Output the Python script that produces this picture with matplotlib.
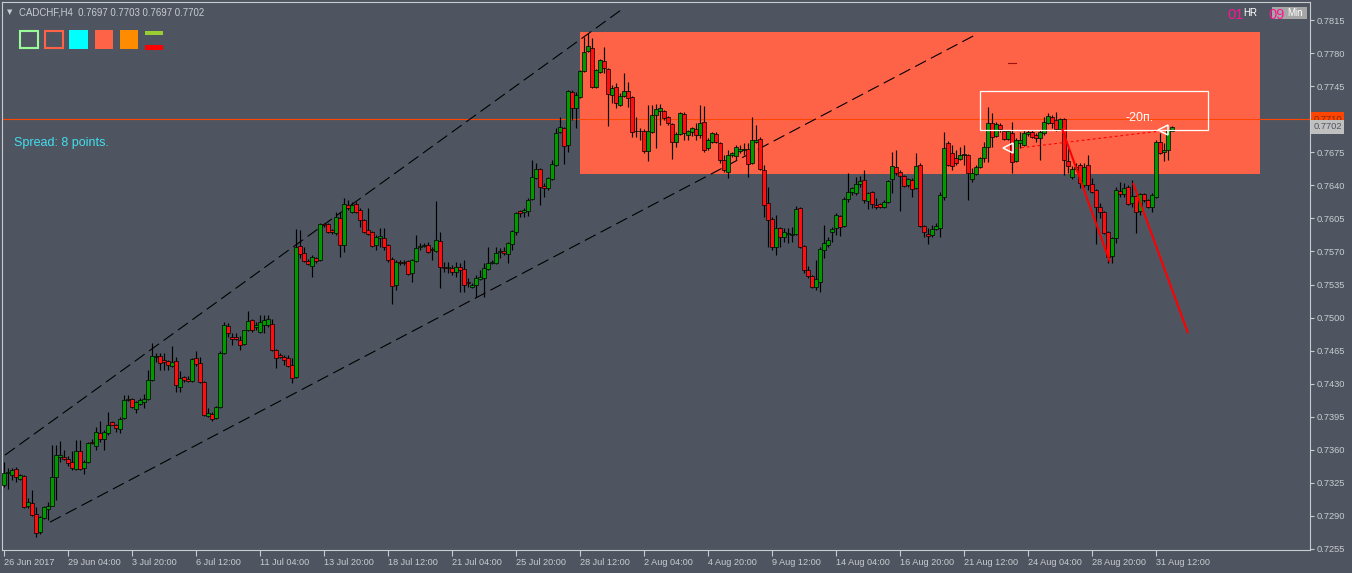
import matplotlib
matplotlib.use('Agg')
import matplotlib.pyplot as plt
from matplotlib.patches import Rectangle
import matplotlib.transforms as mtrans

W, H = 1352, 573
BG = '#4f5560'
FG = '#c8cbd0'
BULL = '#009a00'
BEAR = '#ff1010'
plt.rcParams['font.family'] = ['Liberation Sans', 'DejaVu Sans']

# ---------------- data (CADCHF H4, one bar every 4 hours) ----------------
opens = [
 .7323,.7335,.7333,.7340,.7329,.7332,.7300,.7304,.7292,.7273,.7288,.7297,.7301,.7331,.7352,.7352,.7350,.7347,.7340,.7359,
 .7341,.7347,.7368,.7364,.7378,.7371,.7378,.7389,.7386,.7382,.7394,.7413,.7414,.7403,.7409,.7411,.7414,.7434,.7458,.7459,
 .7455,.7454,.7449,.7454,.7426,.7437,.7435,.7433,.7457,.7452,.7432,.7396,.7398,.7394,.7405,.7462,.7491,.7479,.7479,.7476,
 .7472,.7487,.7497,.7490,.7485,.7492,.7492,.7493,.7466,.7460,.7458,.7457,.7450,.7437,.7576,.7568,.7560,.7555,.7563,.7561,
 .7599,.7599,.7593,.7590,.7605,.7577,.7619,.7612,.7620,.7614,.7603,.7593,.7591,.7577,.7584,.7584,.7577,.7562,.7534,.7559,
 .7558,.7560,.7547,.7560,.7575,.7576,.7577,.7573,.7570,.7581,.7553,.7552,.7552,.7548,.7553,.7551,.7538,.7532,.7534,.7541,
 .7542,.7551,.7558,.7558,.7569,.7570,.7567,.7578,.7591,.7613,.7612,.7613,.7625,.7648,.7657,.7639,.7637,.7647,.7661,.7696,
 .7701,.7683,.7739,.7722,.7734,.7761,.7782,.7785,.7744,.7760,.7772,.7763,.7736,.7744,.7725,.7735,.7740,.7734,.7698,.7697,
 .7698,.7676,.7696,.7714,.7719,.7719,.7712,.7705,.7686,.7694,.7716,.7693,.7696,.7700,.7693,.7707,.7680,.7686,.7694,.7685,
 .7667,.7654,.7672,.7671,.7676,.7677,.7678,.7664,.7686,.7689,.7656,.7621,.7604,.7575,.7595,.7585,.7588,.7587,.7588,.7616,
 .7576,.7550,.7544,.7532,.7538,.7571,.7577,.7591,.7595,.7608,.7597,.7625,.7633,.7632,.7641,.7646,.7623,.7633,.7619,.7620,
 .7617,.7622,.7647,.7659,.7654,.7650,.7640,.7646,.7637,.7661,.7597,.7588,.7587,.7594,.7595,.7628,.7685,.7674,.7669,.7668,
 .7672,.7672,.7647,.7652,.7659,.7669,.7681,.7706,.7692,.7704,.7697,.7689,.7695,.7666,.7685,.7683,.7694,.7696,.7693,.7690,
 .7695,.7706,.7712,.7709,.7700,.7710,.7666,.7649,.7657,.7661,.7640,.7661,.7641,.7635,.7617,.7612,.7591,.7565,.7584,.7634,
 .7631,.7638,.7621,.7629,.7613,.7631,.7624,.7617,.7628,.7686,.7675,.7677,.7697]
highs = [
 .7347,.7341,.7341,.7342,.7334,.7333,.7309,.7317,.7299,.7290,.7300,.7305,.7365,.7365,.7369,.7360,.7353,.7359,.7370,.7370,
 .7349,.7368,.7371,.7384,.7391,.7381,.7400,.7391,.7387,.7395,.7418,.7418,.7415,.7412,.7415,.7419,.7444,.7473,.7462,.7462,
 .7462,.7455,.7470,.7458,.7443,.7438,.7438,.7457,.7465,.7458,.7433,.7404,.7400,.7406,.7465,.7495,.7494,.7484,.7484,.7480,
 .7487,.7507,.7498,.7495,.7503,.7503,.7503,.7499,.7467,.7462,.7460,.7460,.7457,.7594,.7593,.7575,.7562,.7566,.7564,.7600,
 .7600,.7600,.7594,.7612,.7612,.7627,.7624,.7622,.7622,.7616,.7604,.7616,.7592,.7587,.7595,.7595,.7578,.7564,.7561,.7561,
 .7561,.7561,.7562,.7587,.7579,.7579,.7580,.7575,.7623,.7591,.7559,.7559,.7556,.7559,.7558,.7561,.7542,.7537,.7545,.7550,
 .7558,.7575,.7561,.7575,.7574,.7575,.7580,.7593,.7612,.7614,.7616,.7627,.7667,.7664,.7658,.7642,.7649,.7667,.7701,.7712,
 .7702,.7741,.7741,.7739,.7762,.7797,.7801,.7796,.7763,.7774,.7786,.7764,.7746,.7748,.7738,.7759,.7749,.7735,.7712,.7701,
 .7700,.7725,.7725,.7726,.7726,.7720,.7713,.7706,.7696,.7718,.7718,.7699,.7702,.7706,.7725,.7724,.7690,.7696,.7696,.7686,
 .7672,.7677,.7675,.7683,.7683,.7685,.7685,.7712,.7704,.7691,.7661,.7638,.7606,.7609,.7596,.7595,.7595,.7596,.7618,.7617,
 .7577,.7555,.7545,.7561,.7575,.7598,.7585,.7596,.7611,.7609,.7628,.7653,.7638,.7649,.7650,.7656,.7633,.7634,.7627,.7621,
 .7624,.7646,.7675,.7677,.7656,.7651,.7648,.7648,.7674,.7664,.7598,.7595,.7598,.7600,.7633,.7696,.7687,.7683,.7677,.7681,
 .7683,.7673,.7658,.7661,.7670,.7686,.7723,.7717,.7707,.7706,.7699,.7699,.7707,.7690,.7696,.7699,.7699,.7699,.7695,.7699,
 .7712,.7717,.7714,.7718,.7711,.7711,.7680,.7660,.7664,.7664,.7664,.7672,.7648,.7636,.7621,.7613,.7592,.7585,.7638,.7643,
 .7642,.7640,.7646,.7630,.7632,.7632,.7625,.7632,.7688,.7695,.7685,.7700,.7703]
lows = [
 .7321,.7318,.7328,.7326,.7328,.7298,.7298,.7290,.7268,.7271,.7287,.7286,.7300,.7307,.7347,.7349,.7343,.7339,.7339,.7339,
 .7334,.7346,.7366,.7360,.7368,.7360,.7376,.7386,.7379,.7378,.7393,.7412,.7404,.7399,.7407,.7404,.7413,.7433,.7453,.7445,
 .7444,.7445,.7448,.7421,.7421,.7432,.7432,.7432,.7449,.7431,.7396,.7395,.7390,.7393,.7404,.7461,.7479,.7471,.7476,.7466,
 .7471,.7486,.7485,.7487,.7484,.7484,.7490,.7465,.7447,.7457,.7450,.7448,.7431,.7436,.7563,.7559,.7556,.7543,.7558,.7560,
 .7596,.7590,.7588,.7587,.7564,.7569,.7614,.7611,.7611,.7596,.7590,.7587,.7575,.7571,.7575,.7571,.7559,.7514,.7529,.7556,
 .7556,.7545,.7538,.7559,.7571,.7575,.7568,.7561,.7569,.7531,.7548,.7547,.7545,.7543,.7527,.7527,.7532,.7531,.7522,.7540,
 .7522,.7550,.7557,.7557,.7563,.7566,.7558,.7571,.7587,.7606,.7606,.7607,.7624,.7647,.7619,.7628,.7635,.7646,.7660,.7695,
 .7663,.7675,.7709,.7701,.7732,.7760,.7781,.7743,.7743,.7759,.7759,.7703,.7727,.7722,.7724,.7734,.7723,.7691,.7691,.7688,
 .7674,.7666,.7695,.7680,.7704,.7709,.7704,.7668,.7681,.7693,.7688,.7688,.7692,.7688,.7690,.7675,.7677,.7685,.7685,.7664,
 .7654,.7648,.7670,.7667,.7674,.7672,.7649,.7663,.7685,.7656,.7606,.7575,.7571,.7566,.7575,.7580,.7579,.7580,.7587,.7574,
 .7547,.7542,.7531,.7529,.7527,.7563,.7575,.7580,.7587,.7586,.7596,.7622,.7630,.7630,.7638,.7621,.7615,.7616,.7615,.7616,
 .7616,.7621,.7632,.7651,.7613,.7638,.7638,.7628,.7636,.7596,.7585,.7578,.7585,.7593,.7585,.7624,.7660,.7656,.7661,.7667,
 .7661,.7624,.7643,.7651,.7658,.7665,.7665,.7681,.7691,.7696,.7688,.7688,.7653,.7665,.7680,.7682,.7692,.7690,.7686,.7667,
 .7693,.7705,.7701,.7697,.7699,.7651,.7653,.7647,.7656,.7637,.7638,.7635,.7632,.7578,.7605,.7588,.7558,.7558,.7579,.7628,
 .7628,.7619,.7617,.7590,.7609,.7622,.7616,.7612,.7627,.7673,.7666,.7667,.7697]
closes = [
 .7335,.7336,.7339,.7331,.7333,.7299,.7305,.7291,.7272,.7289,.7299,.7301,.7331,.7354,.7355,.7350,.7346,.7341,.7359,.7340,
 .7347,.7367,.7367,.7379,.7371,.7379,.7386,.7386,.7383,.7393,.7413,.7414,.7405,.7411,.7413,.7414,.7434,.7459,.7459,.7452,
 .7453,.7450,.7453,.7429,.7436,.7434,.7433,.7456,.7451,.7432,.7397,.7399,.7393,.7405,.7463,.7492,.7484,.7477,.7477,.7471,
 .7487,.7496,.7487,.7492,.7495,.7497,.7498,.7466,.7457,.7458,.7455,.7449,.7436,.7575,.7567,.7560,.7557,.7564,.7560,.7599,
 .7598,.7591,.7591,.7606,.7577,.7620,.7616,.7619,.7612,.7603,.7591,.7588,.7576,.7585,.7586,.7575,.7561,.7533,.7559,.7558,
 .7559,.7546,.7561,.7574,.7576,.7577,.7569,.7571,.7582,.7553,.7552,.7553,.7548,.7553,.7550,.7535,.7537,.7534,.7542,.7543,
 .7552,.7558,.7559,.7568,.7570,.7568,.7579,.7592,.7611,.7611,.7614,.7624,.7649,.7657,.7638,.7637,.7648,.7663,.7695,.7702,
 .7682,.7740,.7722,.7736,.7761,.7781,.7788,.7744,.7762,.7773,.7764,.7737,.7743,.7727,.7735,.7740,.7732,.7696,.7697,.7698,
 .7676,.7698,.7714,.7721,.7722,.7711,.7706,.7686,.7694,.7717,.7695,.7697,.7701,.7693,.7706,.7677,.7688,.7695,.7686,.7667,
 .7656,.7672,.7674,.7681,.7678,.7678,.7663,.7688,.7688,.7657,.7619,.7603,.7575,.7595,.7585,.7591,.7589,.7588,.7615,.7575,
 .7550,.7544,.7532,.7541,.7573,.7579,.7582,.7594,.7609,.7596,.7626,.7633,.7637,.7641,.7645,.7624,.7632,.7620,.7617,.7617,
 .7622,.7645,.7660,.7653,.7650,.7639,.7647,.7636,.7660,.7597,.7591,.7586,.7594,.7597,.7630,.7680,.7661,.7660,.7664,.7672,
 .7673,.7653,.7653,.7659,.7669,.7681,.7706,.7691,.7705,.7700,.7689,.7697,.7665,.7688,.7688,.7695,.7696,.7691,.7690,.7696,
 .7707,.7713,.7706,.7700,.7710,.7667,.7660,.7657,.7659,.7642,.7659,.7640,.7633,.7617,.7612,.7590,.7564,.7584,.7635,.7631,
 .7637,.7620,.7629,.7612,.7631,.7624,.7617,.7630,.7686,.7674,.7677,.7699,.7702]

time_labels = ['26 Jun 2017', '29 Jun 04:00', '3 Jul 20:00', '6 Jul 12:00', '11 Jul 04:00',
               '13 Jul 20:00', '18 Jul 12:00', '21 Jul 04:00', '25 Jul 20:00', '28 Jul 12:00',
               '2 Aug 04:00', '4 Aug 20:00', '9 Aug 12:00', '14 Aug 04:00', '16 Aug 20:00',
               '21 Aug 12:00', '24 Aug 04:00', '28 Aug 20:00', '31 Aug 12:00']
bars_per_label = 16
price_ticks = [0.7255, 0.7290, 0.7325, 0.7360, 0.7395, 0.7430, 0.7465, 0.7500, 0.7535,
               0.7570, 0.7605, 0.7640, 0.7675, 0.7710, 0.7745, 0.7780, 0.7815]

# chart objects (bar index, price)
zone_bars = [144, 314];        zone_prices = [0.76519, 0.78023]
box_bars = [244, 301];         box_prices = [0.76985, 0.77398]
upper_ch_bars = [0.25, 154.25]; upper_ch_prices = [0.73544, 0.78256]
lower_ch_bars = [11.5, 242.75]; lower_ch_prices = [0.72834, 0.77991]
red1_bars = [264.5, 276.5];    red1_prices = [0.77000, 0.75587]
red2_bars = [282.25, 296.0];   red2_prices = [0.76424, 0.74836]
dot_bars = [251.5, 289.0];     dot_prices = [0.76784, 0.76975]
mark_bars = [251.0, 289.75];   mark_prices = [0.76795, 0.76990]
level_price = 0.7710
bid_price = 0.7702
header = 'CADCHF,H4  0.7697 0.7703 0.7697 0.7702'

# ---------------- figure ----------------
fig = plt.figure(figsize=(W / 100, H / 100), dpi=100)
fig.patch.set_facecolor(BG)
ax = fig.add_axes([2 / W, 23 / H, 1308 / W, 548 / H])
ax.set_facecolor(BG)
ax.set_xlim(-0.5, 326.5)
ax.set_ylim(0.72539, 0.78341)
for s in ax.spines.values():
    s.set_color(FG)
    s.set_linewidth(0.8)

# zone rectangle
ax.add_patch(Rectangle((zone_bars[0], zone_prices[0]), zone_bars[1] - zone_bars[0],
                       zone_prices[1] - zone_prices[0], facecolor='#ff6347', edgecolor='none', zorder=0.5))

# level line
ax.axhline(level_price, color='#ff4500', lw=0.8, zorder=1)

# channels
ax.plot(upper_ch_bars, upper_ch_prices, color='black', lw=0.8, ls=(0, (11, 5)), zorder=1.2)
ax.plot(lower_ch_bars, lower_ch_prices, color='black', lw=0.8, ls=(0, (11, 5)), zorder=1.2)

# candles
for i, (o, h, l, c) in enumerate(zip(opens, highs, lows, closes)):
    hi = max(h, o, c)
    lo = min(l, o, c)
    ax.vlines(i, lo, hi, color='black', lw=0.85, zorder=2)
    if abs(c - o) < 1e-9:
        ax.hlines(o, i - 0.4, i + 0.4, color='black', lw=0.85, zorder=3)
    else:
        col = BULL if c > o else BEAR
        ax.add_patch(Rectangle((i - 0.38, min(o, c)), 0.76, abs(c - o),
                               facecolor=col, edgecolor='black', lw=0.5, zorder=3))

# white box
ax.add_patch(Rectangle((box_bars[0], box_prices[0]), box_bars[1] - box_bars[0],
                       box_prices[1] - box_prices[0], facecolor='none', edgecolor='white', lw=0.9, zorder=4))
ax.text(280.5, 0.77112, '-20п.', color='white', fontsize=9, ha='left', va='center', zorder=6)
ax.plot([251, 253], [0.77695, 0.77695], color='#9b1010', lw=0.8, zorder=4)

# red lines
ax.plot(red1_bars, red1_prices, color='#ff0000', lw=1.5, zorder=5, solid_capstyle='butt')
ax.plot(red2_bars, red2_prices, color='#ff0000', lw=1.5, zorder=5, solid_capstyle='butt')
ax.plot(dot_bars, dot_prices, color='#ff0000', lw=0.8, ls=(0, (2.5, 2.5)), zorder=5)
ax.plot(mark_bars, mark_prices, ls='none', marker='<', ms=7, mfc='none', mec='white', mew=1.1, zorder=6)

# axes ticks
ax.yaxis.tick_right()
ax.set_yticks(price_ticks)
ax.set_yticklabels(['' if abs(p - level_price) < 1e-9 else f'{p:.4f}' for p in price_ticks])
xt = [k * bars_per_label for k in range(len(time_labels))]
ax.set_xticks(xt)
ax.set_xticklabels(time_labels, ha='left')
ax.tick_params(axis='y', direction='out', length=3, width=0.8, color=FG, labelcolor=FG,
               labelsize=6.7, pad=2)
ax.tick_params(axis='x', direction='out', length=4, width=0.8, color=FG, labelcolor=FG,
               labelsize=6.6, pad=2)

# price labels on the scale
tr = mtrans.blended_transform_factory(ax.transAxes, ax.transData)
ax.text(1.0025, level_price, f'{level_price:.4f}', transform=tr, ha='left', va='center',
        fontsize=6.7, color='#7a2a10', clip_on=False, zorder=10,
        bbox=dict(boxstyle='square,pad=0.25', fc='#ff4500', ec='none'))
ax.text(1.0025, bid_price, f'{bid_price:.4f}', transform=tr, ha='left', va='center',
        fontsize=6.7, color='#4f5560', clip_on=False, zorder=11,
        bbox=dict(boxstyle='square,pad=0.25', fc='#c0c0c0', ec='none'))

# ---------------- overlays in pixel coordinates ----------------
def fx(x):
    return x / W

def fy(y):
    return 1 - y / H

def frect(x0, y0, x1, y1, **kw):
    fig.add_artist(Rectangle((fx(x0), fy(y1)), (x1 - x0) / W, (y1 - y0) / H,
                             transform=fig.transFigure, **kw))

fig.text(fx(7), fy(12.5), '▼', fontsize=5, color=FG, va='center', family='DejaVu Sans')
fig.text(fx(19), fy(12.5), header, fontsize=6.9, color=FG, va='center')

frect(20, 31, 38, 48, facecolor='none', edgecolor='#98fb98', lw=1.5)
frect(45, 31, 63, 48, facecolor='none', edgecolor='#ff6347', lw=1.5)
frect(69, 30, 88, 49, facecolor='#00ffff', edgecolor='none')
frect(95, 30, 113, 49, facecolor='#ff6347', edgecolor='none')
frect(120, 30, 138, 49, facecolor='#ff8c00', edgecolor='none')
frect(145, 31, 163, 35, facecolor='#9acd32', edgecolor='none')
frect(145, 45.5, 163, 49.5, facecolor='#ff0000', edgecolor='none')

fig.text(fx(14), fy(143.5), 'Spread: 8 points.', fontsize=9, color='#40e0f0', va='center')

frect(1272, 7, 1307, 19, facecolor='#a6a6a6', edgecolor='none')
fig.text(fx(1227), fy(15), '01', fontsize=10.5, color='#ff1493', va='center')
fig.text(fx(1243), fy(12.5), 'HR', fontsize=7, color='white', va='center')
fig.text(fx(1268), fy(15), '09', fontsize=10.5, color='#ff1493', va='center')
fig.text(fx(1287), fy(12.5), 'Min', fontsize=7, color='white', va='center')

fig.savefig('out.png', dpi=100, facecolor=BG)
